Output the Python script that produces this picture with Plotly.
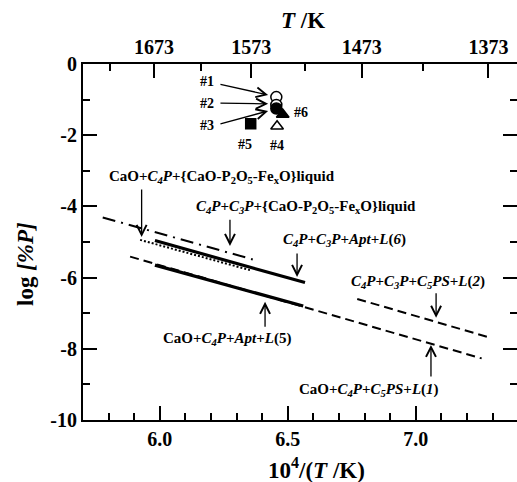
import plotly.graph_objects as go

# ---- data ----
dashdot_x = [5.777, 6.363]; dashdot_y = [-4.31, -5.49]   # C4P+C3P+{liquid}
dotted_x = [5.923, 6.352]; dotted_y = [-4.94, -5.79]     # CaO+C4P+{liquid}
solid6_x = [5.981, 6.567]; solid6_y = [-4.96, -6.14]     # C4P+C3P+Apt+L(6)
dash1_x = [5.884, 7.257]; dash1_y = [-5.41, -8.27]       # CaO+C4P+C5PS+L(1)
solid5_x = [5.981, 6.560]; solid5_y = [-5.65, -6.80]     # CaO+C4P+Apt+L(5)
dash2_x = [6.771, 7.287]; dash2_y = [-6.60, -7.68]       # C4P+C3P+C5PS+L(2)

pt_names = ["#1", "#2", "#3", "#4", "#5", "#6"]
pt_x = [6.455, 6.455, 6.455, 6.458, 6.355, 6.480]
pt_y = [-0.93, -1.15, -1.25, -1.75, -1.68, -1.42]
pt_symbol = ["circle-open", "circle", "circle", "triangle-up-open", "square", "triangle-up"]
pt_fill = ["white", "white", "black", "white", "black", "black"]

x_ticks = [6.0, 6.5, 7.0]
x_minor = [5.8, 5.9, 6.1, 6.2, 6.3, 6.4, 6.6, 6.7, 6.8, 6.9, 7.1, 7.2, 7.3]
y_ticks = [0, -2, -4, -6, -8, -10]
y_labels = ["0", "-2", "-4", "-6", "-8", "-10"]
y_minor = [-1, -3, -5, -7, -9]
T_major = [1673, 1573, 1473, 1373]
T_minor = [1723, 1623, 1523, 1423]

XR = [5.7, 7.395]
YR = [-10, 0]
FONT = "Liberation Serif"

fig = go.Figure()

def line(x, y, dash, width):
    fig.add_trace(go.Scatter(x=x, y=y, mode="lines",
                             line=dict(color="black", width=width, dash=dash),
                             showlegend=False, hoverinfo="skip"))

line(dash1_x, dash1_y, "9px,5px", 2)
line(dash2_x, dash2_y, "9px,5px", 2)
line(dashdot_x, dashdot_y, "13px,6px,2px,6px", 2)
line(dotted_x, dotted_y, "2px,2px", 2)
line(solid6_x, solid6_y, "solid", 3.2)
line(solid5_x, solid5_y, "solid", 3.2)

for i in range(len(pt_x)):
    sym = pt_symbol[i].replace("-open", "")
    fig.add_trace(go.Scatter(x=[pt_x[i]], y=[pt_y[i]], mode="markers",
                             marker=dict(symbol=sym, size=11 if "square" not in sym else 10,
                                         color=pt_fill[i],
                                         line=dict(color="black", width=1.5)),
                             showlegend=False, hoverinfo="skip"))

# invisible trace for top/right axes
fig.add_trace(go.Scatter(x=[None], y=[None], xaxis="x2", yaxis="y2",
                         showlegend=False, hoverinfo="skip"))

tick_font = dict(family=FONT, size=20, color="black", weight="bold")

fig.update_layout(
    width=517, height=482,
    margin=dict(l=83, r=0, t=64, b=62, autoexpand=False),
    paper_bgcolor="white", plot_bgcolor="white",
    font=dict(family=FONT, color="black"),
    xaxis=dict(range=XR, tickmode="array", tickvals=x_ticks,
               ticktext=[f"{v:.1f}" for v in x_ticks], automargin=False,
               ticks="inside", ticklen=14, tickwidth=2, tickcolor="black",
               showline=True, linewidth=2, linecolor="black",
               showgrid=False, zeroline=False, tickfont=tick_font,
               minor=dict(tickmode="array", tickvals=x_minor, ticks="inside",
                          ticklen=7, tickwidth=1.5, tickcolor="black", showgrid=False)),
    yaxis=dict(range=YR, tickmode="array", tickvals=y_ticks, ticktext=y_labels,
               automargin=False,
               ticks="inside", ticklen=14, tickwidth=2, tickcolor="black",
               showline=True, linewidth=2, linecolor="black",
               showgrid=False, zeroline=False, tickfont=tick_font,
               minor=dict(tickmode="array", tickvals=y_minor, ticks="inside",
                          ticklen=7, tickwidth=1.5, tickcolor="black", showgrid=False)),
    xaxis2=dict(range=XR, overlaying="x", side="top", anchor="y2", automargin=False,
                tickmode="array", tickvals=[1e4 / t for t in T_major],
                ticktext=[str(t) for t in T_major],
                ticks="inside", ticklen=14, tickwidth=2, tickcolor="black",
                showline=True, linewidth=2, linecolor="black",
                showgrid=False, zeroline=False, tickfont=tick_font,
                minor=dict(tickmode="array", tickvals=[1e4 / t for t in T_minor],
                           ticks="inside", ticklen=7, tickwidth=1.5,
                           tickcolor="black", showgrid=False)),
    yaxis2=dict(range=YR, overlaying="y", side="right", anchor="x2", automargin=False,
                tickmode="array", tickvals=[-2, -4, -6, -8], showticklabels=False,
                ticks="inside", ticklen=14, tickwidth=2, tickcolor="black",
                showline=False, showgrid=False, zeroline=False,
                minor=dict(tickmode="array", tickvals=y_minor, ticks="inside",
                           ticklen=7, tickwidth=1.5, tickcolor="black", showgrid=False)),
)

lab_font = dict(family=FONT, size=15, color="black")
C4P = "<i>C<sub>4</sub>P</i>"
C3P = "<i>C<sub>3</sub>P</i>"
C5PS = "<i>C<sub>5</sub>PS</i>"
liq = "{CaO-P<sub>2</sub>O<sub>5</sub>-Fe<sub>x</sub>O}liquid"

labels = [
    ("CaO+" + C4P + "+" + liq, 6.243, -3.17),
    (C4P + "+" + C3P + "+" + liq, 6.571, -4.01),
    (C4P + "+" + C3P + "+<i>Apt</i>+<i>L</i>(<i>6</i>)", 6.72, -4.94),
    (C4P + "+" + C3P + "+" + C5PS + "+<i>L</i>(<i>2</i>)", 7.009, -6.12),
    ("CaO+" + C4P + "+" + C5PS + "+<i>L</i>(<i>1</i>)", 6.817, -9.16),
    ("CaO+" + C4P + "+<i>Apt</i>+<i>L</i>(5)", 6.261, -7.73),
]
for t, x, y in labels:
    fig.add_annotation(x=x, y=y, text="<b>" + t + "</b>", showarrow=False,
                       font=lab_font, xanchor="center", yanchor="middle")

# arrows: (tip_x, tip_y, tail_x, tail_y)
arrows = [
    (5.929, -4.86, 5.929, -3.48),
    (6.274, -5.11, 6.274, -4.33),
    (6.536, -5.98, 6.536, -5.28),
    (7.079, -7.13, 7.079, -6.40),
    (7.059, -7.89, 7.059, -8.82),
    (6.411, -6.68, 6.411, -7.42),
    (6.423, -0.87, 6.231, -0.56),
    (6.423, -1.12, 6.231, -1.10),
    (6.423, -1.32, 6.231, -1.69),
]
for tx, ty, sx, sy in arrows:
    fig.add_annotation(x=tx, y=ty, ax=sx, ay=sy, axref="x", ayref="y",
                       text="", showarrow=True, arrowhead=5, arrowsize=1.5,
                       arrowwidth=1.3, arrowcolor="black")

pt_lab_x = [6.184, 6.184, 6.184, 6.458, 6.333, 6.55]
pt_lab_y = [-0.48, -1.10, -1.74, -2.29, -2.25, -1.35]
for n, x, y in zip(pt_names, pt_lab_x, pt_lab_y):
    fig.add_annotation(x=x, y=y, text="<b>" + n + "</b>", showarrow=False,
                       font=dict(family=FONT, size=14, color="black"))

# axis titles
fig.add_annotation(xref="paper", yref="paper", x=0.508, y=1, yshift=44,
                   xanchor="center", yanchor="middle",
                   text="<b><i>T</i> /K</b>", showarrow=False,
                   font=dict(family=FONT, size=23, color="black"))
fig.add_annotation(xref="paper", yref="paper", x=0.537, y=0, yshift=-48,
                   xanchor="center", yanchor="middle",
                   text="<b>10<sup>4</sup>/(<i>T</i> /K)</b>", showarrow=False,
                   font=dict(family=FONT, size=23, color="black"))
fig.add_annotation(xref="paper", yref="paper", x=0, xshift=-58, y=0.5, yshift=-22,
                   xanchor="center", yanchor="middle",
                   text="<b>log <i>[%P]</i></b>", showarrow=False, textangle=-90,
                   font=dict(family=FONT, size=23, color="black"))

fig.write_html("out.html",
               config={"displayModeBar": False},
               post_script="document.body.style.margin='0';"
                           "document.body.style.overflow='hidden';")
